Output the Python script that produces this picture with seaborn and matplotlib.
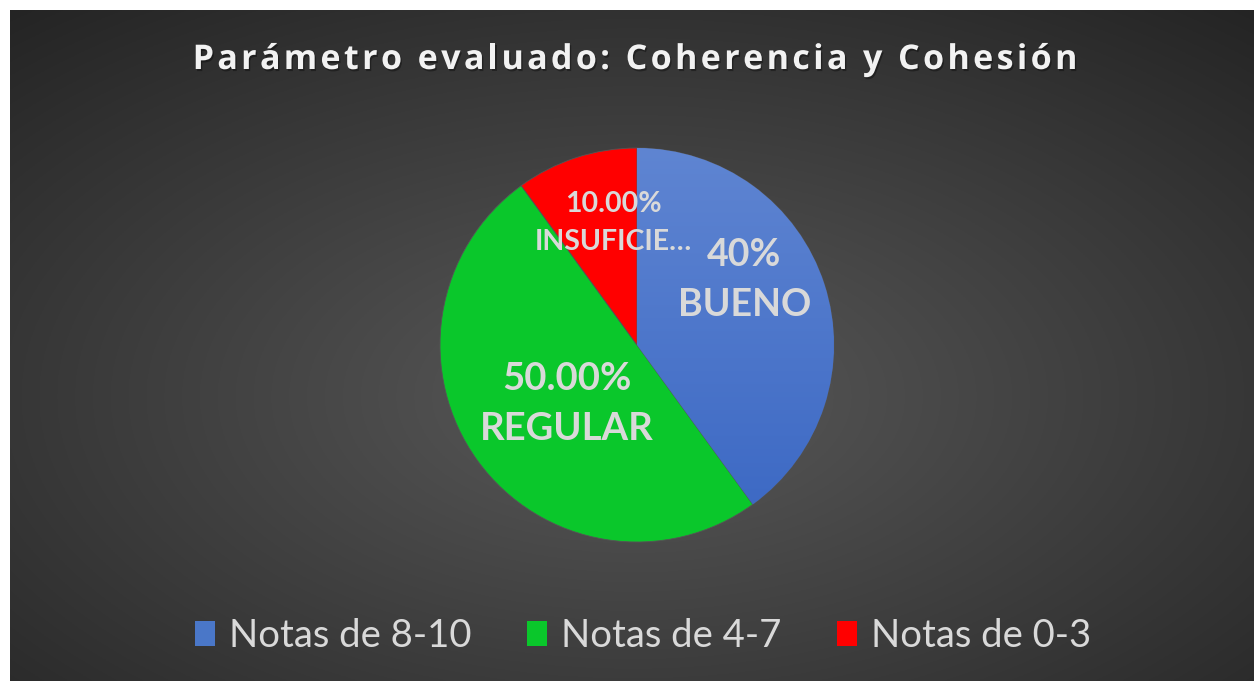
import numpy as np
import matplotlib
matplotlib.use("Agg")
import matplotlib.pyplot as plt
import matplotlib.patheffects as pe
from matplotlib.patches import Patch
import seaborn as sns

# datos del grafico
categorias = ["Notas de 8-10", "Notas de 4-7", "Notas de 0-3"]
valores = [40, 50, 10]
etiquetas = ["40%\nBUENO", "50.00%\nREGULAR", "10.00%\nINSUFICIE…"]
titulo = "Parámetro evaluado: Coherencia y Cohesión"

colores = ["#4472C4", "#0AC72B", "#FF0000"]
gris = "#D9D9D9"

sns.set_theme(style="white")
plt.rcParams["font.family"] = ["Open Sans", "DejaVu Sans"]

W, H = 1254, 681
fig = plt.figure(figsize=(W / 100, H / 100), dpi=100)
fig.patch.set_facecolor("white")

# fondo con degradado radial
bg = fig.add_axes([10 / W, 0, (W - 10) / W, (H - 10) / H])
yy, xx = np.mgrid[0:400, 0:700]
cx, cy = 350, 230
d = np.sqrt(((xx - cx) / 700) ** 2 + ((yy - cy) / 400) ** 2)
d = np.clip(d / 0.75, 0, 1)
g = 0.35 - (0.35 - 0.145) * d
bg.imshow(np.dstack([g, g, g]), aspect="auto", extent=[0, 1, 0, 1], origin="upper")
bg.set_axis_off()

# tarta
cx_px, cy_px, r_px = 637, 345, 197
ax = fig.add_axes([(cx_px - r_px) / W, (H - cy_px - r_px) / H, 2 * r_px / W, 2 * r_px / H])
wedges, _ = ax.pie(valores, colors=colores, startangle=90, counterclock=False,
                   wedgeprops=dict(linewidth=0.6, edgecolor="#555555"))
ax.set_xlim(-1, 1)
ax.set_ylim(-1, 1)
ax.set_aspect("equal")
ax.set_axis_off()
for w in wedges:
    w.set_clip_on(False)

# degradado en la porcion azul
grad = np.linspace(0, 1, 256)[:, None]
c1 = np.array(matplotlib.colors.to_rgb("#5F85D2"))
c2 = np.array(matplotlib.colors.to_rgb("#3A67C3"))
img = c1[None, None, :] * (1 - grad[..., None]) + c2[None, None, :] * grad[..., None]
im = ax.imshow(np.repeat(img, 2, axis=1), extent=[-1, 1, -1, 1], origin="upper",
               aspect="auto", zorder=wedges[0].get_zorder() + 0.1)
im.set_clip_path(wedges[0])

# etiquetas de datos
pos = [(0.545, 0.33), (-0.355, -0.30), (-0.12, 0.62)]
tam = [27, 27.5, 20.5]
for (x, y), s, fs in zip(pos, etiquetas, tam):
    ax.text(x, y, s, ha="center", va="center", color=gris, fontsize=fs,
            fontweight="bold", family=["Lato", "DejaVu Sans"], linespacing=1.55, zorder=10)

# titulo con espaciado entre letras
fp = matplotlib.font_manager.FontProperties(family=["Open Sans", "DejaVu Sans"], weight="bold", size=24.5)
renderer = fig.canvas.get_renderer()
anchos = []
for ch in titulo:
    if ch == " ":
        anchos.append(fp.get_size_in_points() * 100 / 72 * 0.26)
    else:
        w, h, dsc = renderer.get_text_width_height_descent(ch, fp, ismath=False)
        anchos.append(w)
esp = 3.4
total = sum(anchos) + esp * (len(titulo) - 1)
x0 = 635 - total / 2
sombra = [pe.withSimplePatchShadow(offset=(1, -1.5), shadow_rgbFace="black", alpha=0.35)]
for ch, w in zip(titulo, anchos):
    fig.text(x0 / W, 1 - 60 / H, ch, fontproperties=fp, color="#F2F2F2",
             ha="left", va="center", path_effects=sombra)
    x0 += w + esp

# leyenda
handles = [Patch(facecolor=c, edgecolor="none") for c in colores]
handles[0] = Patch(facecolor="#4A77C8", edgecolor="none")
fig.legend(handles, categorias, loc="center", bbox_to_anchor=(643 / W, 1 - 636 / H),
           ncol=3, frameon=False, labelcolor=gris,
           handlelength=0.53, handleheight=0.63, handletextpad=0.37, columnspacing=1.45,
           prop=dict(family=["Lato", "DejaVu Sans"], size=27.5))

fig.savefig("out.png", dpi=100, facecolor=fig.get_facecolor())
